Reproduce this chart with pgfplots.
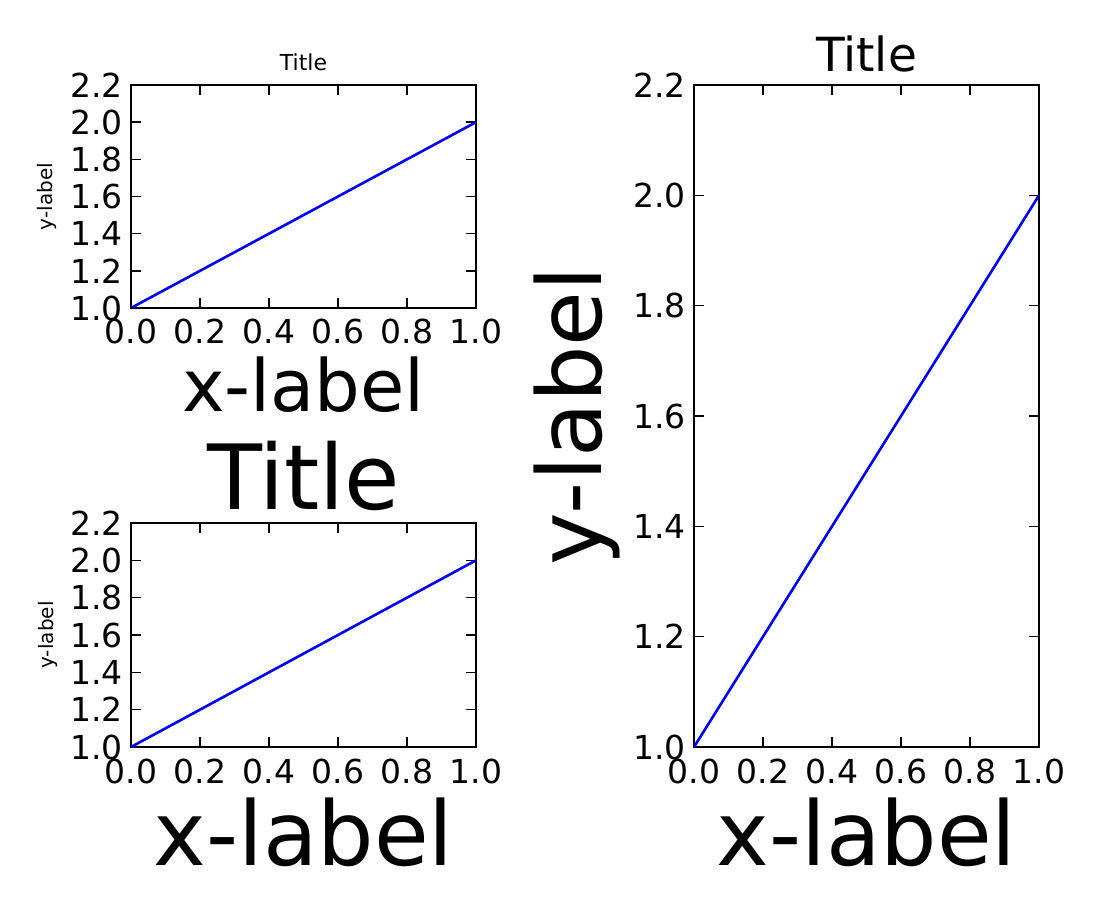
\documentclass[border=0pt]{standalone}
\usepackage{fontspec}
\setmainfont{DejaVu Sans}
\usepackage{pgfplots}
\pgfplotsset{compat=1.18}
\newcommand{\fs}[1]{\fontsize{#1}{#1}\selectfont}
\pgfplotsset{
  base/.style={
    scale only axis,
    width=345pt,
    xmin=0, xmax=1, ymin=1, ymax=2.2,
    xtick={0,0.2,0.4,0.6,0.8,1},
    ytick={1,1.2,1.4,1.6,1.8,2,2.2},
    /pgf/number format/fixed,
    /pgf/number format/fixed zerofill,
    /pgf/number format/precision=1,
    /pgf/number format/assume math mode=true,
    tick label style={font=\fs{33}},
    xticklabel style={anchor=base, inner sep=0pt, yshift=-36pt},
    yticklabel style={anchor=east, inner sep=0pt, xshift=-8pt},
    axis line style={line width=2.6pt},
    axis background/.style={draw=black, line width=2.6pt},
    major tick style={line width=1.6pt, black},
    major tick length=10pt,
    tick align=inside,
    clip=true,
  },
  ttl/.style 2 args={every axis title/.style={at={(axis description cs:0.5,1)}, anchor=base, inner sep=0pt, yshift=#2, font=\fs{#1}}},
  xl/.style 2 args={every axis x label/.style={at={(axis description cs:0.5,0)}, anchor=base, inner sep=0pt, yshift=#2, font=\fs{#1}}},
  yl/.style 2 args={every axis y label/.style={at={(axis description cs:0,0.5)}, xshift=#2, rotate=90, anchor=base, inner sep=0pt, font=\fs{#1}}},
}
\begin{document}
\begin{tikzpicture}
\useasboundingbox (0,0) rectangle (1100pt,900pt);
% top-left
\begin{axis}[base, height=223pt, at={(131pt,592pt)}, anchor=south west,
  ttl={22}{14pt}, xl={72}{-104pt}, yl={20}{-78pt},
  title={Title}, xlabel={x-label}, ylabel={y-label}]
\addplot[color={rgb,1:red,0;green,0;blue,1}, line width=2.6pt] coordinates {(0,1) (1,2)};
\end{axis}
% bottom-left
\begin{axis}[base, height=224pt, at={(131pt,153pt)}, anchor=south west,
  ttl={90}{14pt}, xl={89}{-118pt}, yl={20}{-78pt},
  title={Title}, xlabel={x-label}, ylabel={y-label}]
\addplot[color={rgb,1:red,0;green,0;blue,1}, line width=2.6pt] coordinates {(0,1) (1,2)};
\end{axis}
% right
\begin{axis}[base, height=662pt, at={(694pt,153pt)}, anchor=south west,
  ttl={47}{13pt}, xl={89}{-118pt}, yl={89}{-93pt},
  title={Title}, xlabel={x-label}, ylabel={y-label}]
\addplot[color={rgb,1:red,0;green,0;blue,1}, line width=2.6pt] coordinates {(0,1) (1,2)};
\end{axis}
\end{tikzpicture}
\end{document}
